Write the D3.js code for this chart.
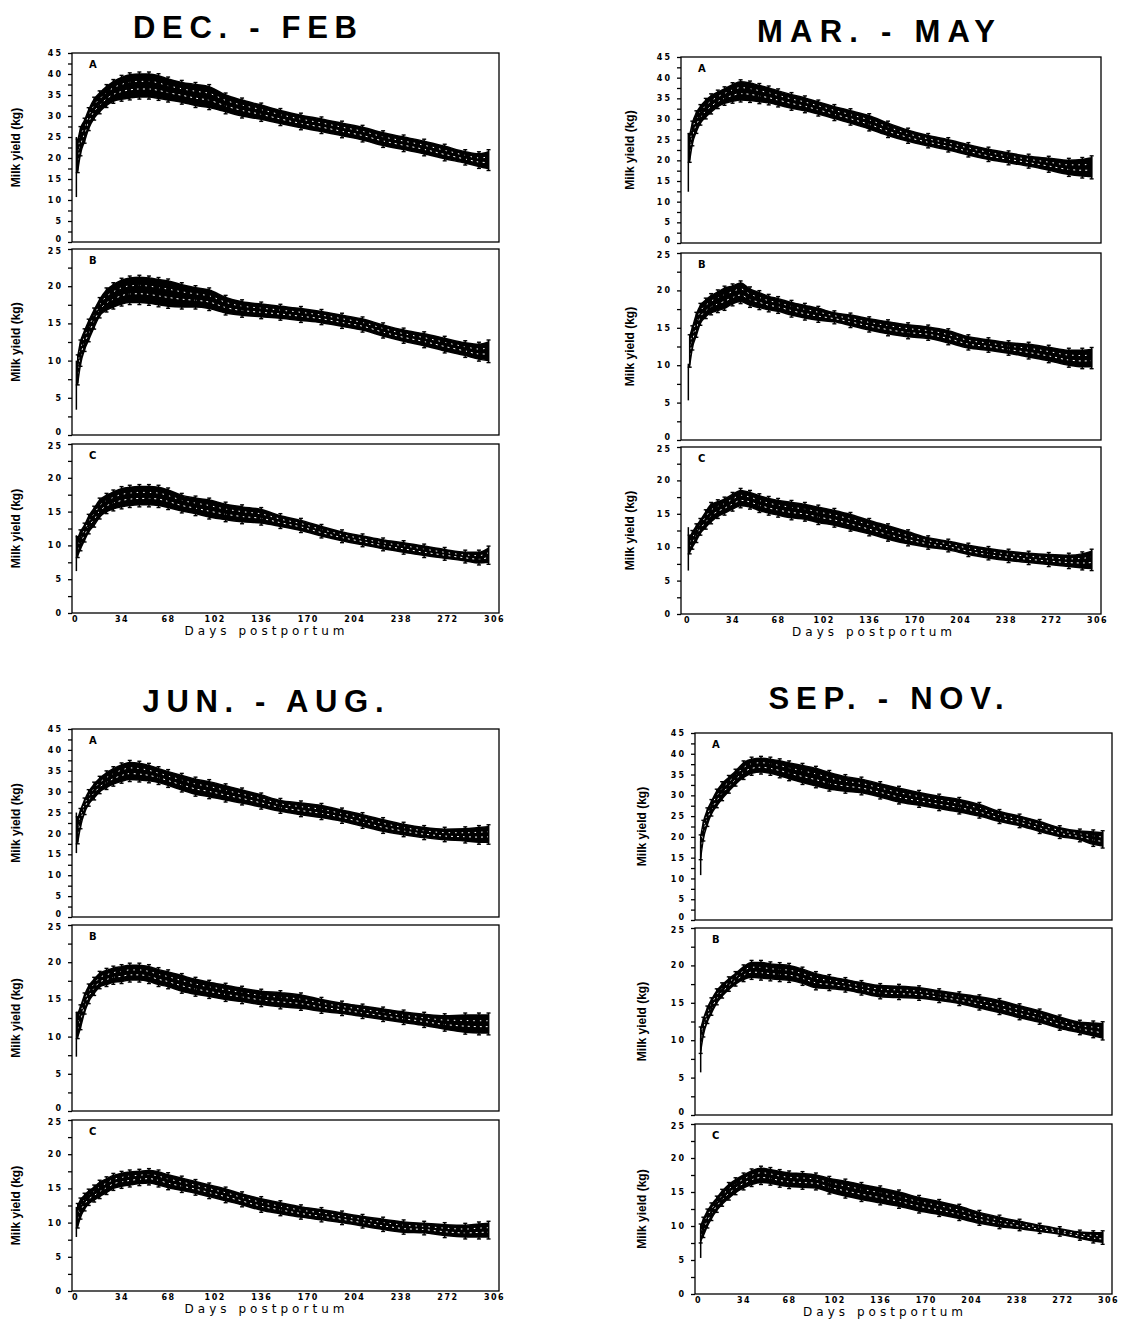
<!DOCTYPE html>
<html lang="en">
<head>
<meta charset="utf-8">
<title>Milk yield by season</title>
<script src="https://d3js.org/d3.v7.min.js"></script>
<style>
  body { margin: 0; background: #fff; }
  text { fill: #000; }
</style>
</head>
<body>
<div id="dataviz"></div>
<script>
// days postportum sampled for every band
var days = [2,4,7,10,14,18,23,28,34,40,47,54,61,68,78,88,98,110,122,136,150,165,180,195,210,225,240,255,270,285,295,302];
var xTicks = [0,34,68,102,136,170,204,238,272,306];
var seasons = ["DEC. - FEB", "MAR. - MAY", "JUN. - AUG.", "SEP. - NOV."];
var letters = ["A", "B", "C"];
var yMax = [45, 25, 25];

// lower / upper edge of the error-bar band (kg)
var decA_lo = [17,21,24,27,29.5,31,32.5,33.5,34,34.3,34.5,34.5,34.2,33.8,33.3,32.5,32,31,30,29.2,28.2,27.2,26.3,25.3,24.3,23,22,21,19.8,18.8,18,17.5];
var decA_hi = [24,27,29,31.5,34,35.5,37,38.2,39.2,39.8,40,40,39.6,38.8,38,37.5,37,35,33.8,32.6,31.3,30.2,29.3,28.3,27.3,26,25,24,22.8,21.5,21,21.5];
var decB_lo = [7,9.5,11.5,12.8,14.5,16,16.8,17.2,17.6,17.8,17.8,17.7,17.5,17.3,17.2,17.2,17,16.4,16.1,15.9,15.7,15.4,15.1,14.6,14.1,13.3,12.6,12,11.3,10.7,10.2,10];
var decB_hi = [10.5,12.5,14,15.3,16.8,18.2,19.5,20.2,20.8,21.1,21.2,21.1,20.9,20.7,20.2,19.8,19.5,18.5,17.9,17.6,17.3,17,16.6,16.1,15.6,14.8,14.1,13.6,13,12.4,12.2,12.5];
var decC_lo = [8.5,9.5,10.8,12,13,14.2,15,15.4,15.7,15.9,16,16,15.9,15.6,15.1,14.7,14.2,13.8,13.5,13.3,12.8,12.2,11.4,10.7,10.1,9.5,9,8.5,8.1,7.7,7.4,7.5];
var decC_hi = [11,12,13,14.3,15.5,16.7,17.4,17.9,18.4,18.6,18.7,18.7,18.6,18.2,17.4,17,16.7,16.1,15.7,15.3,14.4,13.7,12.8,12,11.4,10.8,10.4,9.9,9.4,9,9,9.6];

var marA_lo = [20,24,27,29,30.5,31.7,33,33.8,34.3,34.6,34.5,34.2,33.9,33.4,32.6,32,31.2,30.1,29,27.6,26,24.6,23.5,22.5,21.3,20.2,19.4,18.6,17.6,16.6,16.2,16];
var marA_hi = [26,29,31.5,33,34.5,35.6,36.5,37.3,38.3,39,38.7,38.1,37.5,36.8,35.9,35.1,34.1,33,32,30.8,29,27.3,26,25,23.8,22.7,21.8,21,20.5,20,20.2,20.6];
var marB_lo = [10,12.3,14,15.6,16.5,17,17.3,17.6,18.2,18.5,18,17.7,17.4,17.2,16.7,16.3,16,15.8,15.3,14.7,14.2,13.8,13.6,13,12.3,12,11.6,11.1,10.6,10,9.8,9.8];
var marB_hi = [13.8,15,16.8,18,18.7,19.3,19.8,20.3,20.6,21,20.2,19.7,19.2,18.9,18.4,18,17.6,17,16.7,16.2,15.8,15.4,15.1,14.6,13.8,13.4,13,12.8,12.4,12,12,12.1];
var marC_lo = [9.3,10,11,12.1,13,13.8,14.6,15.1,15.7,16.2,16,15.5,15.1,14.8,14.4,14.2,13.7,13.3,12.7,12,11.2,10.5,10,9.6,8.9,8.4,8,7.7,7.4,7.1,6.9,6.8];
var marC_hi = [11.5,12.2,13.2,14,15.3,16.4,16.8,17.2,17.9,18.5,18.2,17.7,17.3,17,16.7,16.4,16,15.5,14.9,14,13.2,12.3,11.4,10.9,10.3,9.8,9.4,9.1,8.9,8.8,9,9.4];

var junA_lo = [18,21.6,25,27,28.5,30,31,31.8,32.5,32.9,32.8,32.6,32.2,31.5,30.4,29.4,28.8,28,27.3,26.3,25.3,24.5,23.8,22.9,21.7,20.5,19.7,19,18.5,18.2,17.9,17.9];
var junA_hi = [23.5,25.5,28,30,31.8,33.2,34.5,35.5,36.4,37,36.8,36.3,35.5,34.8,33.9,33,32.4,31.4,30.4,29.2,27.9,27.3,26.7,25.6,24.5,23.3,22.2,21.4,21,21.1,21.4,21.6];
var junB_lo = [10,11.2,13.3,14.7,15.8,16.7,17,17.3,17.4,17.6,17.6,17.4,17,16.7,16.1,15.7,15.4,15,14.7,14.3,14,13.8,13.4,13.1,12.7,12.3,11.9,11.5,11,10.6,10.5,10.5];
var junB_hi = [13,14,15.6,16.8,17.7,18.5,18.9,19.2,19.4,19.6,19.6,19.4,19,18.7,18.2,17.7,17.3,16.9,16.5,16.1,15.9,15.6,15,14.5,14.1,13.7,13.3,13,12.8,12.9,12.9,12.9];
var junC_lo = [9.5,10.8,12,12.8,13.3,13.8,14.4,15,15.3,15.5,15.7,15.8,15.5,15.1,14.7,14.3,13.8,13.2,12.6,11.8,11.3,10.8,10.4,10,9.5,9,8.6,8.5,8.1,7.9,7.9,7.9];
var junC_hi = [12.5,13.3,14,14.6,15.2,15.9,16.4,16.9,17.2,17.4,17.5,17.6,17.4,17,16.5,16,15.5,14.9,14.2,13.5,12.9,12.3,11.9,11.4,10.9,10.5,10.1,9.9,9.7,9.6,9.8,9.9];

var sepA_lo = [15,19.5,23,25.5,27.5,29.2,31,32.7,34.3,35.3,35.6,35.3,34.7,34,33.1,32.3,31.5,31,30.6,29.6,28.4,27.6,26.8,26,25,23.7,22.7,21.3,20.1,19.3,18.2,17.8];
var sepA_hi = [20,23.5,26.5,28.5,31,32.8,34.3,35.8,37.8,38.7,38.9,38.7,38.3,37.8,37.2,36.5,35.5,34.5,33.9,32.8,31.7,30.7,29.8,29,27.8,26.1,25,23.7,22.2,21.4,21.2,21];
var sepB_lo = [8.5,10.7,12.5,13.6,15,15.9,16.8,17.5,18.1,18.4,18.3,18.2,18.1,18,17.6,17,16.9,16.7,16.3,15.8,15.7,15.6,15.3,14.9,14.3,13.7,13,12.4,11.6,11,10.6,10.3];
var sepB_hi = [11.5,12.8,14.3,15.4,16.6,17.4,18.2,18.9,19.8,20.4,20.4,20.2,20.1,20,19.5,18.9,18.5,18.1,17.7,17.3,17.2,17,16.6,16.2,15.8,15.3,14.6,13.9,13.1,12.4,12.3,12.2];
var sepC_lo = [7.8,8.6,10,11.1,12.3,13.2,14.1,14.9,15.6,16.1,16.4,16.3,16,15.8,15.7,15.6,15,14.4,13.9,13.4,12.9,12.2,11.7,11.1,10.4,9.9,9.6,9.2,8.8,8.2,7.8,7.6];
var sepC_hi = [10,11,12.2,13.1,14.1,15.1,16.1,16.8,17.5,18.1,18.5,18.3,18,17.8,17.7,17.5,17,16.6,16.1,15.6,15,14.2,13.6,12.9,12,11.3,10.7,10.1,9.6,9.1,9,9];

// long error bar of the first day: [day, low, high]
var decA_first = [1, 10.7, 25], decB_first = [1, 3.4, 10], decC_first = [1, 6.2, 11.5];
var marA_first = [1, 12.4, 26.6], marB_first = [1, 5.3, 10.2], marC_first = [1, 6.5, 13];
var junA_first = [1, 15.3, 25], junB_first = [1, 7.3, 13.3], junC_first = [1, 7.9, 12.3];
var sepA_first = [2, 10.8, 19], sepB_first = [2, 5.7, 10.3], sepC_first = [2, 5.3, 9.5];

var bands = [
    [[decA_lo, decA_hi, decA_first], [decB_lo, decB_hi, decB_first], [decC_lo, decC_hi, decC_first]],
    [[marA_lo, marA_hi, marA_first], [marB_lo, marB_hi, marB_first], [marC_lo, marC_hi, marC_first]],
    [[junA_lo, junA_hi, junA_first], [junB_lo, junB_hi, junB_first], [junC_lo, junC_hi, junC_first]],
    [[sepA_lo, sepA_hi, sepA_first], [sepB_lo, sepB_hi, sepB_first], [sepC_lo, sepC_hi, sepC_first]]
];

// page layout of the four blocks
var blocks = [
    {left: 72, right: 499, x0: 75, x1: 494, ylab: 20, title: [245, 38, 224], panels: [[53, 242], [249, 435], [444, 613]]},
    {left: 681, right: 1101, x0: 687, x1: 1097, ylab: 634, title: [876, 42, 238], panels: [[57, 243], [253, 440], [447, 614]]},
    {left: 72, right: 499, x0: 75, x1: 494, ylab: 20, title: [263, 712, 241], panels: [[729, 917], [925, 1111], [1120, 1291]]},
    {left: 695, right: 1112, x0: 698, x1: 1108, ylab: 646, title: [886, 709, 235], panels: [[733, 920], [928, 1115], [1124, 1294]]}
];

var svg = d3.select("#dataviz").append("svg")
    .attr("width", 1137)
    .attr("height", 1319);

blocks.forEach(function(b, s) {
    svg.append("text")
        .attr("x", b.title[0]).attr("y", b.title[1])
        .attr("text-anchor", "middle")
        .attr("textLength", b.title[2]).attr("lengthAdjust", "spacing")
        .style("font-family", "'Liberation Sans', Arial, sans-serif")
        .style("font-weight", "bold").style("font-size", "31px")
        .text(seasons[s]);

    var x = d3.scaleLinear().domain([0, 306]).range([b.x0, b.x1]);

    b.panels.forEach(function(pp, p) {
        var top = pp[0], bottom = pp[1];
        var y = d3.scaleLinear().domain([0, yMax[p]]).range([bottom, top]);
        var g = svg.append("g");

        g.append("rect")
            .attr("x", b.left).attr("y", top)
            .attr("width", b.right - b.left).attr("height", bottom - top)
            .attr("fill", "none").attr("stroke", "#000").attr("stroke-width", 1.3);

        var yAxis = g.append("g")
            .attr("transform", "translate(" + b.left + ",0)")
            .call(d3.axisLeft(y)
                .tickValues(d3.range(0, yMax[p] + 0.1, 2.5))
                .tickSize(4).tickPadding(5)
                .tickFormat(function(d) { return d % 5 === 0 ? d : ""; }));
        yAxis.select(".domain").remove();
        yAxis.selectAll("line").attr("stroke-width", 1.3);
        yAxis.selectAll("text")
            .style("font-family", "'DejaVu Sans', sans-serif")
            .style("font-weight", "bold").style("font-size", "8px")
            .style("letter-spacing", "2px")
            .attr("dy", function(d) {
                // end labels sit tight against the neighbouring panel
                if (d === 0 && p < 2) return "-0.05em";
                if (d === yMax[p] && p > 0) return "0.6em";
                return "0.32em";
            });

        g.append("text")
            .attr("transform", "translate(" + b.ylab + "," + (top + bottom) / 2 + ") rotate(-90)")
            .attr("text-anchor", "middle")
            .style("font-family", "'Liberation Sans Narrow', 'Liberation Sans', sans-serif")
            .style("font-weight", "bold").style("font-size", "12px")
            .text("Milk yield (kg)");

        g.append("text")
            .attr("x", b.left + 17).attr("y", top + 15)
            .style("font-family", "'DejaVu Sans', sans-serif")
            .style("font-weight", "bold").style("font-size", "10px")
            .text(letters[p]);

        var lo = bands[s][p][0], hi = bands[s][p][1], first = bands[s][p][2];
        var pts = days.map(function(d, i) { return {d: d, lo: lo[i], hi: hi[i]}; });

        g.append("path")
            .datum(pts)
            .attr("fill", "#000").attr("stroke", "#000").attr("stroke-width", 1.5)
            .attr("d", d3.area()
                .x(function(d) { return x(d.d); })
                .y0(function(d) { return y(d.lo); })
                .y1(function(d) { return y(d.hi); })
                .curve(d3.curveMonotoneX));

        // white specks inside the band
        [0.35, 0.68].forEach(function(f, k) {
            g.append("path")
                .datum(pts)
                .attr("fill", "none").attr("stroke", "#fff")
                .attr("stroke-width", 1).attr("stroke-dasharray", k ? "1.5,5" : "2,4")
                .attr("d", d3.line()
                    .x(function(d) { return x(d.d); })
                    .y(function(d) { return y(d.lo + (d.hi - d.lo) * f); })
                    .curve(d3.curveMonotoneX));
        });

        // error bars with caps
        var bars = g.selectAll(".bar").data(pts).enter().append("g");
        bars.append("line")
            .attr("x1", function(d) { return x(d.d); }).attr("x2", function(d) { return x(d.d); })
            .attr("y1", function(d) { return y(d.lo) + 2; }).attr("y2", function(d) { return y(d.hi) - 2; })
            .attr("stroke", "#000").attr("stroke-width", 1.4);
        bars.append("line")
            .attr("x1", function(d) { return x(d.d) - 2; }).attr("x2", function(d) { return x(d.d) + 2; })
            .attr("y1", function(d) { return y(d.hi) - 2; }).attr("y2", function(d) { return y(d.hi) - 2; })
            .attr("stroke", "#000").attr("stroke-width", 1.4);
        bars.append("line")
            .attr("x1", function(d) { return x(d.d) - 2; }).attr("x2", function(d) { return x(d.d) + 2; })
            .attr("y1", function(d) { return y(d.lo) + 2; }).attr("y2", function(d) { return y(d.lo) + 2; })
            .attr("stroke", "#000").attr("stroke-width", 1.4);

        g.append("line")
            .attr("x1", x(first[0])).attr("x2", x(first[0]))
            .attr("y1", y(first[1])).attr("y2", y(first[2]))
            .attr("stroke", "#000").attr("stroke-width", 1.5);

        if (p === 2) {
            var xAxis = g.append("g")
                .attr("transform", "translate(0," + bottom + ")")
                .call(d3.axisBottom(x).tickValues(xTicks).tickSize(0).tickPadding(3));
            xAxis.select(".domain").remove();
            xAxis.selectAll("text")
                .style("font-family", "'DejaVu Sans', sans-serif")
                .style("font-weight", "bold").style("font-size", "8px")
                .style("letter-spacing", "1.5px");

            g.append("text")
                .attr("x", (b.x0 + b.x1) / 2 - 20).attr("y", bottom + 22)
                .attr("text-anchor", "middle")
                .attr("textLength", 160).attr("lengthAdjust", "spacing")
                .style("font-family", "'DejaVu Sans', sans-serif")
                .style("font-size", "12px")
                .text("Days postportum");
        }
    });
});
</script>
</body>
</html>
